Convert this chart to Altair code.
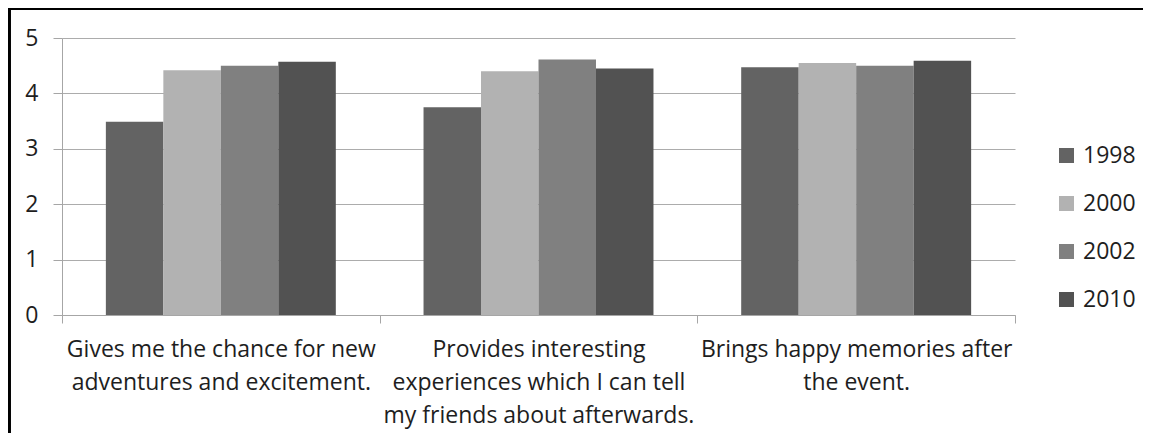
import altair as alt
import pandas as pd

categories = [
    "Gives me the chance for new adventures and excitement.",
    "Provides interesting experiences which I can tell my friends about afterwards.",
    "Brings happy memories after the event.",
]
label_lines = [
    ["Gives me the chance for new", "adventures and excitement."],
    ["Provides interesting", "experiences which I can tell", "my friends about afterwards."],
    ["Brings happy memories after", "the event."],
]
years = ["1998", "2000", "2002", "2010"]
values_1998 = [3.49, 3.75, 4.47]
values_2000 = [4.42, 4.40, 4.55]
values_2002 = [4.50, 4.61, 4.50]
values_2010 = [4.57, 4.45, 4.59]
colors = ["#636363", "#b2b2b2", "#808080", "#525252"]
y_ticks = [0, 1, 2, 3, 4, 5]

series = [values_1998, values_2000, values_2002, values_2010]
rows = []
for yr, vals in zip(years, series):
    for cat, v in zip(categories, vals):
        rows.append({"category": cat, "year": yr, "value": v})
df = pd.DataFrame(rows)

# label expression producing multi-line labels
expr = "''"
for cat, lines in reversed(list(zip(categories, label_lines))):
    arr = "[" + ",".join("'" + l + "'" for l in lines) + "]"
    expr = f"datum.label == '{cat}' ? {arr} : ({expr})"

FONT = "Open Sans"
FS = 23
TXT = "#1e1e1e"
AX = "#a6a6a6"

bars = alt.Chart(df).mark_bar().encode(
    x=alt.X(
        "category:N",
        sort=categories,
        scale=alt.Scale(paddingInner=0, paddingOuter=0),
        axis=alt.Axis(
            title=None,
            labelAngle=0,
            tickBand="extent",
            labelExpr=expr,
            labelFont=FONT,
            labelFontSize=FS,
            labelColor=TXT,
            labelLineHeight=33,
            labelPadding=15,
            labelLimit=400,
            labelOverlap=False,
            tickSize=8,
            tickColor=AX,
            domainColor=AX,
            grid=False,
        ),
    ),
    xOffset=alt.XOffset(
        "year:N",
        sort=years,
        scale=alt.Scale(paddingInner=0, paddingOuter=0.763),
    ),
    y=alt.Y(
        "value:Q",
        scale=alt.Scale(domain=[0, 5]),
        axis=alt.Axis(
            title=None,
            values=y_ticks,
            format="d",
            labelFont=FONT,
            labelFontSize=FS,
            labelColor=TXT,
            labelPadding=15,
            tickSize=9,
            tickColor=AX,
            domainColor=AX,
            gridColor="#acacac",
            gridWidth=1,
        ),
    ),
    color=alt.Color(
        "year:N",
        sort=years,
        scale=alt.Scale(domain=years, range=colors),
        legend=alt.Legend(
            title=None,
            orient="none",
            legendX=993,
            legendY=106,
            padding=0,
            symbolType="square",
            symbolSize=225,
            symbolStrokeWidth=0,
            labelFont=FONT,
            labelFontSize=FS,
            labelColor=TXT,
            labelOffset=5,
            rowPadding=24,
        ),
    ),
)

border_left = alt.Chart(df).mark_rule(color="#000000", strokeWidth=2.5).encode(
    x=alt.value(-53), y=alt.value(-30), y2=alt.value(420)
)
border_top = alt.Chart(df).mark_rule(color="#000000", strokeWidth=2.5).encode(
    x=alt.value(-54), x2=alt.value(1100), y=alt.value(-29.5)
)

chart = alt.layer(bars, border_left, border_top).properties(
    width=953,
    height=277,
    autosize=alt.AutoSizeParams(type="none"),
    padding={"left": 54, "top": 30, "right": 128, "bottom": 118},
).configure_view(stroke=None)

chart.save("out.html", embed_options={"renderer": "svg", "actions": False})
